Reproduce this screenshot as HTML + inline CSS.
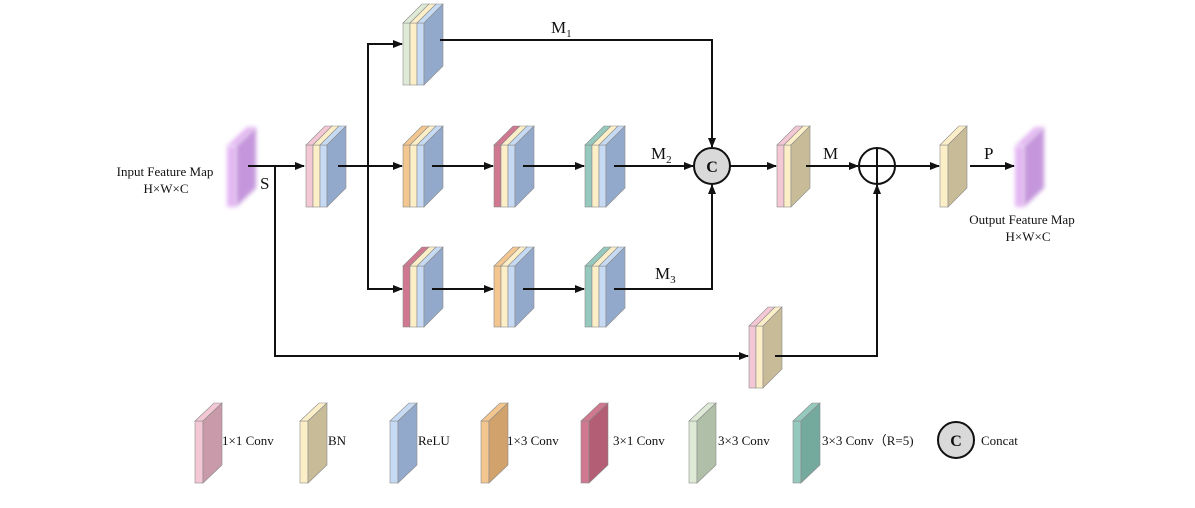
<!DOCTYPE html>
<html><head><meta charset="utf-8">
<style>
html,body{margin:0;padding:0;background:#fff;}
svg{display:block;}
text{font-family:"Liberation Serif",serif;fill:#111;}
</style></head>
<body>
<svg id="s" width="1195" height="508" viewBox="0 0 1195 508" xmlns="http://www.w3.org/2000/svg">
<defs>
<marker id="a" markerWidth="10" markerHeight="8" refX="9" refY="4" orient="auto" markerUnits="userSpaceOnUse">
<path d="M0,0 L10,4 L0,8 Z" fill="#111"/></marker>
<filter id="g" x="-50%" y="-20%" width="200%" height="140%"><feGaussianBlur stdDeviation="2.2"/></filter>
</defs>
<g id="blocks"></g>
<g stroke="#111" stroke-width="2" fill="none">
<line x1="248" y1="166" x2="304" y2="166" marker-end="url(#a)"/>
<polyline points="275,166 275,356 748,356" marker-end="url(#a)"/>
<line x1="338" y1="166" x2="402" y2="166" marker-end="url(#a)"/>
<polyline points="402,44 368,44 368,289 402,289" stroke-width="2"/>
<line x1="368" y1="44" x2="402" y2="44" marker-end="url(#a)"/>
<line x1="368" y1="289" x2="402" y2="289" marker-end="url(#a)"/>
<polyline points="440,40 712,40 712,147" marker-end="url(#a)"/>
<line x1="432" y1="166" x2="493" y2="166" marker-end="url(#a)"/>
<line x1="523" y1="166" x2="584" y2="166" marker-end="url(#a)"/>
<line x1="614" y1="166" x2="693" y2="166" marker-end="url(#a)"/>
<line x1="432" y1="289" x2="493" y2="289" marker-end="url(#a)"/>
<line x1="523" y1="289" x2="584" y2="289" marker-end="url(#a)"/>
<polyline points="614,289 712,289 712,185" marker-end="url(#a)"/>
<line x1="730" y1="166" x2="776" y2="166" marker-end="url(#a)"/>
<line x1="806" y1="166" x2="858" y2="166" marker-end="url(#a)"/>
<line x1="895" y1="166" x2="939" y2="166" marker-end="url(#a)"/>
<polyline points="775,356 877,356 877,185" marker-end="url(#a)"/>
<line x1="970" y1="166" x2="1014" y2="166" marker-end="url(#a)"/>
</g>
<circle cx="712" cy="166" r="18" fill="#d9d9d9" stroke="#111" stroke-width="2"/>
<text x="712" y="172" font-size="16" font-weight="bold" text-anchor="middle">C</text>
<circle cx="877" cy="166" r="18" fill="#fff" stroke="#111" stroke-width="2"/>
<line x1="859" y1="166" x2="895" y2="166" stroke="#111" stroke-width="2"/>
<line x1="877" y1="148" x2="877" y2="184" stroke="#111" stroke-width="2"/>
<circle cx="956" cy="440" r="18" fill="#d9d9d9" stroke="#111" stroke-width="2"/>
<text x="956" y="446" font-size="16" font-weight="bold" text-anchor="middle">C</text>

<text x="551" y="33" font-size="17">M<tspan font-size="11" dy="4">1</tspan></text>
<text x="651" y="159" font-size="17">M<tspan font-size="11" dy="4">2</tspan></text>
<text x="655" y="279" font-size="17">M<tspan font-size="11" dy="4">3</tspan></text>
<text x="823" y="159" font-size="17">M</text>
<text x="984" y="159" font-size="17">P</text>
<text x="260" y="189" font-size="17">S</text>
<text x="165" y="176" font-size="13" text-anchor="middle">Input Feature Map</text>
<text x="166" y="193" font-size="13" text-anchor="middle">H×W×C</text>
<text x="1022" y="224" font-size="13" text-anchor="middle">Output Feature Map</text>
<text x="1028" y="241" font-size="13" text-anchor="middle">H×W×C</text>

<g font-size="13">
<text x="222" y="445">1×1 Conv</text>
<text x="328" y="445">BN</text>
<text x="418" y="445">ReLU</text>
<text x="507" y="445">1×3 Conv</text>
<text x="613" y="445">3×1 Conv</text>
<text x="718" y="445">3×3 Conv</text>
<text x="822" y="445">3×3 Conv（R=5)</text>
<text x="981" y="445">Concat</text>
</g>
</svg>
<script>
var C={
p:["#f3c7d3","#c99aaa"],b:["#fcefc8","#c8bc98"],r:["#c7daf3","#93a9cc"],
o:["#f2c68e","#d2a26c"],m:["#cf7890","#b35e74"],g:["#dfead6","#b0c0a8"],
t:["#95c9bd","#74a99d"],u:["#e3b7f2","#c596dc"]};
var G=document.getElementById('blocks'),NS="http://www.w3.org/2000/svg";
function el(t,a){var e=document.createElementNS(NS,t);for(var k in a)e.setAttribute(k,a[k]);G.appendChild(e);return e;}
// x front-left, y front top, h front height, list of slab keys, fw front width
function blk(x,y,h,list,fw,dx,dy,glow){
 fw=fw||7;dx=dx||19;dy=dy||19;
 var st=glow?"none":"#8a8a8a",sw=glow?0:0.6;
 for(var i=0;i<list.length;i++){
  var c=C[list[i]],fx=x+i*fw;
  var last=i==list.length-1;
  var a={fill:c[0],stroke:st,"stroke-width":sw};
  if(glow)a.filter="url(#g)";
  el('rect',Object.assign({x:fx,y:y,width:fw,height:h},a));
  el('polygon',Object.assign({points:fx+","+y+" "+(fx+dx)+","+(y-dy)+" "+(fx+fw+dx)+","+(y-dy)+" "+(fx+fw)+","+y},a,{fill:c[0]}));
  if(last){
   el('polygon',Object.assign({points:(fx+fw)+","+y+" "+(fx+fw+dx)+","+(y-dy)+" "+(fx+fw+dx)+","+(y+h-dy)+" "+(fx+fw)+","+(y+h)},a,{fill:c[1]}));
  }
 }
}
blk(227,146,61,["u"],9,20,19,true);
blk(306,145,62,["p","b","r"]);
blk(403,23,62,["g","b","r"]);
blk(403,145,62,["o","b","r"]);
blk(494,145,62,["m","b","r"]);
blk(585,145,62,["t","b","r"]);
blk(403,266,61,["m","b","r"]);
blk(494,266,61,["o","b","r"]);
blk(585,266,61,["t","b","r"]);
blk(777,145,62,["p","b"]);
blk(940,145,62,["b"],8);
blk(1015,146,61,["u"],9,20,19,true);
blk(749,326,62,["p","b"]);
var L=[[195,"p"],[300,"b"],[390,"r"],[481,"o"],[581,"m"],[689,"g"],[793,"t"]];
L.forEach(function(l){blk(l[0],421,62,[l[1]],8,19,18);});
</script>
</body></html>
